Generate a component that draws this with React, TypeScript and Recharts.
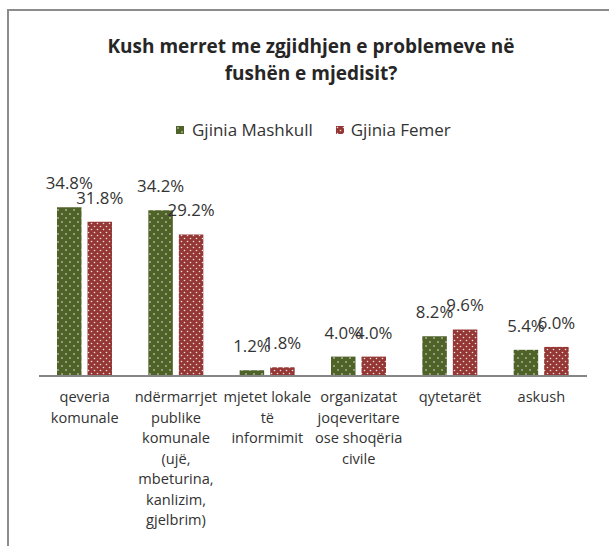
import React from 'react';
import { BarChart, Bar, XAxis, YAxis, Legend } from 'recharts';

const titleLines = ['Kush merret me zgjidhjen e problemeve në', 'fushën e mjedisit?'];
const categories = [
  'qeveria\nkomunale',
  'ndërmarrjet\npublike\nkomunale\n(ujë,\nmbeturina,\nkanlizim,\ngjelbrim)',
  'mjetet lokale\ntë\ninformimit',
  'organizatat\njoqeveritare\nose shoqëria\ncivile',
  'qytetarët',
  'askush',
];
const maleValues = [34.8, 34.2, 1.2, 4.0, 8.2, 5.4];
const femaleValues = [31.8, 29.2, 1.8, 4.0, 9.6, 6.0];
const seriesNames = ['Gjinia Mashkull', 'Gjinia Femer'];

const data = categories.map((name, i) => ({ name, male: maleValues[i], female: femaleValues[i] }));

const GREEN = '#4F6228';
const RED = '#953735';
const FONT = '"Open Sans", sans-serif';
const TEXT = '#333333';

const CategoryTick = (props: any) => {
  const { x, y, payload } = props;
  const lines = String(payload.value).split('\n');
  return (
    <g>
      <text x={x} y={y} textAnchor="middle" fontSize={14.6} fill={TEXT} fontFamily={FONT}>
        {lines.map((l, i) => (
          <tspan key={i} x={x} y={y + 18 + i * 20.5}>
            {l}
          </tspan>
        ))}
      </text>
    </g>
  );
};

const renderLabel = (props: any) => {
  const { x, y, width, value } = props;
  return (
    <text
      x={Number(x) + Number(width) / 2}
      y={Number(y) - 18}
      textAnchor="middle"
      fontSize={16.8}
      fill={TEXT}
      fontFamily={FONT}
    >
      {Number(value).toFixed(1)}%
    </text>
  );
};

const Swatch = ({ pattern }: { pattern: string }) => (
  <svg width={8} height={8} style={{ display: 'block' }}>
    <rect x={0} y={0} width={8} height={8} fill={`url(#${pattern})`} />
  </svg>
);

const LegendContent = () => (
  <div style={{ display: 'flex', alignItems: 'center', fontFamily: FONT, fontSize: 17, lineHeight: '20px', color: TEXT }}>
    <div style={{ display: 'flex', alignItems: 'center' }}>
      <Swatch pattern="patGreen" />
      <span style={{ marginLeft: 8 }}>{seriesNames[0]}</span>
    </div>
    <div style={{ display: 'flex', alignItems: 'center', marginLeft: 23 }}>
      <Swatch pattern="patRed" />
      <span style={{ marginLeft: 7 }}>{seriesNames[1]}</span>
    </div>
  </div>
);

export default function App() {
  return (
    <div style={{ position: 'absolute', left: 0, top: 0, width: 609, height: 546, background: '#fff', overflow: 'hidden' }}>
      <div
        style={{
          position: 'absolute',
          left: 7,
          top: 9,
          width: 620,
          height: 560,
          borderTop: '2px solid #8c8c8c',
          borderLeft: '2px solid #8c8c8c',
          boxSizing: 'border-box',
        }}
      />
      <svg width={609} height={100} style={{ position: 'absolute', left: 0, top: 0 }}>
        {titleLines.map((t, i) => (
          <text
            key={i}
            x={311}
            y={53 + i * 27}
            textAnchor="middle"
            fontSize={19}
            fontWeight="bold"
            fontFamily={FONT}
            fill="#262626"
          >
            {t}
          </text>
        ))}
      </svg>
      <div style={{ position: 'absolute', left: 0, top: 0 }}>
        <BarChart
          width={609}
          height={546}
          data={data}
          margin={{ top: 182, right: 22, left: 39, bottom: 10 }}
          barSize={24.5}
          barGap={6}
        >
          <defs>
            <pattern id="patGreen" patternUnits="userSpaceOnUse" width={8} height={8}>
              <rect x={0} y={0} width={8} height={8} fill={GREEN} />
              <circle cx={2} cy={2} r={0.8} fill="#ffffff" fillOpacity={0.85} />
              <circle cx={6} cy={6} r={0.8} fill="#ffffff" fillOpacity={0.85} />
            </pattern>
            <pattern id="patRed" patternUnits="userSpaceOnUse" width={6} height={6}>
              <rect x={0} y={0} width={6} height={6} fill={RED} />
              <circle cx={1.5} cy={1.5} r={0.8} fill="#ffffff" fillOpacity={0.85} />
              <circle cx={4.5} cy={4.5} r={0.8} fill="#ffffff" fillOpacity={0.85} />
            </pattern>
          </defs>
          <XAxis
            dataKey="name"
            interval={0}
            tick={CategoryTick}
            tickLine={false}
            axisLine={{ stroke: '#868686', strokeWidth: 2 }}
            height={160}
          />
          <YAxis hide domain={[0, 40]} />
          <Legend
            verticalAlign="middle"
            align="center"
            content={LegendContent}
            wrapperStyle={{ position: 'absolute', top: 120, left: 176, width: 320, height: 20 }}
          />
          <Bar dataKey="male" name={seriesNames[0]} fill="url(#patGreen)" isAnimationActive={false} label={renderLabel} />
          <Bar dataKey="female" name={seriesNames[1]} fill="url(#patRed)" isAnimationActive={false} label={renderLabel} />
        </BarChart>
      </div>
    </div>
  );
}
